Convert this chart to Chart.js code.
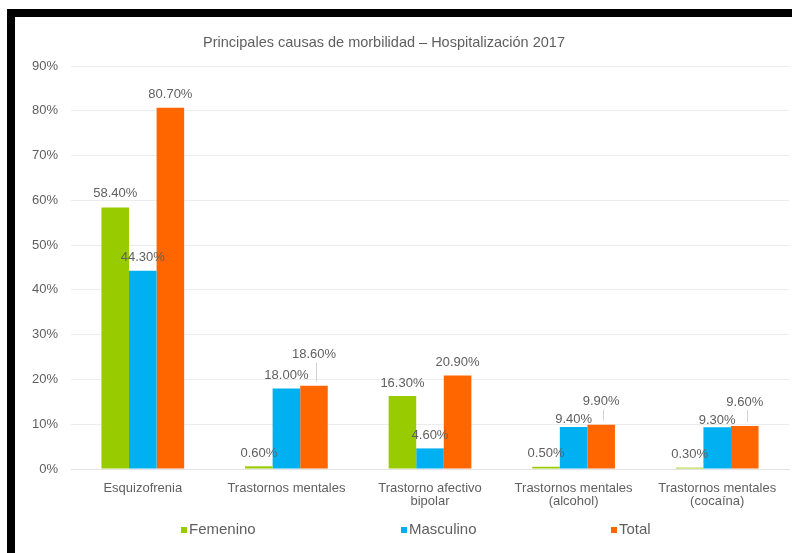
<!DOCTYPE html>
<html>
<head>
<meta charset="utf-8">
<script src="https://cdn.jsdelivr.net/npm/chart.js@4"></script>
<style>
  html, body { margin: 0; padding: 0; background: #ffffff; }
  #wrap { position: relative; width: 792px; height: 553px; overflow: hidden; background: #fff; }
  #frame { position: absolute; left: 7px; top: 9px; width: 800px; height: 560px;
           border-top: 8px solid #000; border-left: 8px solid #000; box-sizing: border-box; }
  #c { position: absolute; left: 0; top: 0; }
</style>
</head>
<body>
<div id="wrap">
  <div id="frame"></div>
  <canvas id="c" width="792" height="553"></canvas>
</div>
<script>
// Morbidity causes, hospitalisation 2017 (percent)
const categories = [
  'Esquizofrenia',
  'Trastornos mentales',
  ['Trastorno afectivo', 'bipolar'],
  ['Trastornos mentales', '(alcohol)'],
  ['Trastornos mentales', '(cocaína)']
];
const femenino  = [58.4, 0.6, 16.3, 0.5, 0.3];
const masculino = [44.3, 18.0, 4.6, 9.4, 9.3];
const total     = [80.7, 18.6, 20.9, 9.9, 9.6];
const seriesNames = ['Femenino', 'Masculino', 'Total'];
const yTicks = [0, 10, 20, 30, 40, 50, 60, 70, 80, 90];

const TEXT = '#5f5f5f';
const FONT = '"Liberation Sans", Arial, sans-serif';

// Value labels above each bar; a few are lifted to avoid collisions and get a leader line
const valueLabels = {
  id: 'valueLabels',
  afterDatasetsDraw(chart, args, opts) {
    const ctx = chart.ctx;
    ctx.save();
    ctx.font = '13px ' + FONT;
    ctx.textAlign = 'center';
    ctx.textBaseline = 'middle';
    chart.data.datasets.forEach((ds, di) => {
      const meta = chart.getDatasetMeta(di);
      meta.data.forEach((bar, i) => {
        const key = di + '-' + i;
        const lift = opts.lifts[key] !== undefined ? opts.lifts[key] : opts.lift;
        const y = bar.y - lift;
        if (lift > 20) {
          ctx.strokeStyle = '#c9d3dc';
          ctx.lineWidth = 1;
          ctx.beginPath();
          ctx.moveTo(Math.round(bar.x) + 2.5, y + 8);
          ctx.lineTo(Math.round(bar.x) + 2.5, bar.y - 4);
          ctx.stroke();
        }
        ctx.fillStyle = TEXT;
        ctx.fillText(ds.data[i].toFixed(2) + '%', bar.x, y);
      });
    });
    ctx.restore();
  }
};

// Title and legend row
const decorations = {
  id: 'decorations',
  afterDraw(chart, args, opts) {
    const ctx = chart.ctx;
    ctx.save();
    ctx.fillStyle = TEXT;
    ctx.font = '14.5px ' + FONT;
    ctx.textAlign = 'center';
    ctx.textBaseline = 'middle';
    ctx.fillText(opts.title, opts.titleX, opts.titleY);

    ctx.font = '15px ' + FONT;
    ctx.textAlign = 'left';
    chart.data.datasets.forEach((ds, di) => {
      const x = opts.legendX[di];
      ctx.fillStyle = ds.backgroundColor;
      ctx.fillRect(x - 3, opts.legendY - 3, 6, 6);
      ctx.fillStyle = TEXT;
      ctx.fillText(ds.label, x + 5, opts.legendY);
    });
    ctx.restore();
  }
};

new Chart(document.getElementById('c'), {
  type: 'bar',
  data: {
    labels: categories,
    datasets: [
      { label: seriesNames[0], data: femenino,  backgroundColor: '#99cc00' },
      { label: seriesNames[1], data: masculino, backgroundColor: '#00b0f0' },
      { label: seriesNames[2], data: total,     backgroundColor: '#ff6600' }
    ]
  },
  plugins: [valueLabels, decorations],
  options: {
    responsive: false,
    animation: false,
    devicePixelRatio: 1,
    layout: { padding: { top: 66, right: 3, bottom: 0, left: 0 } },
    datasets: { bar: { categoryPercentage: 0.576, barPercentage: 1.0, borderWidth: 0 } },
    scales: {
      x: {
        grid: { display: false, drawTicks: false },
        border: { display: true, color: '#e3e3e3' },
        ticks: { color: TEXT, font: { family: FONT, size: 13, lineHeight: 1.0 }, padding: 12.5, maxRotation: 0, autoSkip: false },
        afterFit(scale) { scale.height = 84; }
      },
      y: {
        min: 0,
        max: 90,
        afterBuildTicks(scale) { scale.ticks = yTicks.map(v => ({ value: v })); },
        grid: { color: '#ececec', drawTicks: false },
        border: { display: false },
        ticks: { color: TEXT, font: { family: FONT, size: 13 }, padding: 13, callback: v => v + '%' },
        afterFit(scale) { scale.width = 71; }
      }
    },
    plugins: {
      legend: { display: false },
      title: { display: false },
      tooltip: { enabled: false },
      valueLabels: {
        lift: 13,
        lifts: { '0-0': 14, '1-3': 7, '1-4': 7, '2-1': 31, '2-3': 23, '2-4': 24 }
      },
      decorations: {
        title: 'Principales causas de morbilidad – Hospitalización 2017',
        titleX: 384, titleY: 43,
        legendX: [184, 404, 614], legendY: 530
      }
    }
  }
});
</script>
</body>
</html>
